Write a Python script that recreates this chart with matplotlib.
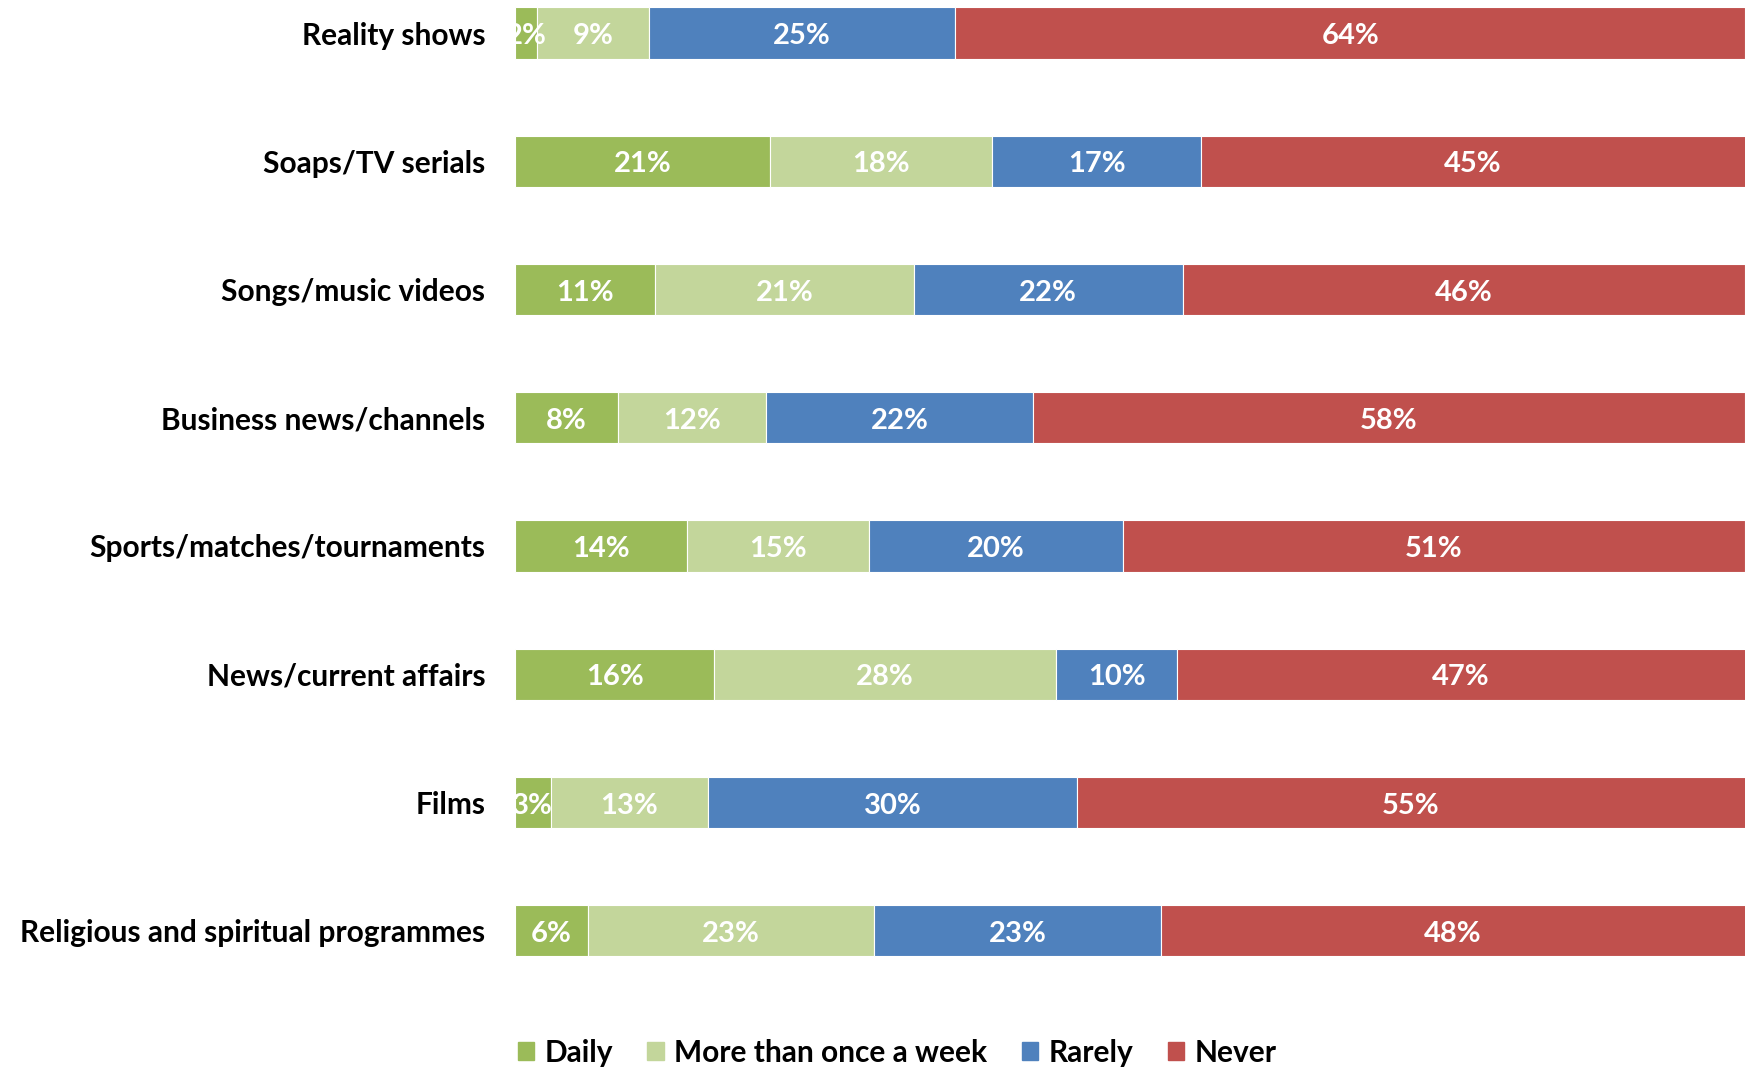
import numpy as np
import matplotlib.pyplot as plt
from matplotlib.patches import Patch

plt.rcParams['font.family'] = ['Lato', 'DejaVu Sans']

categories = ['Reality shows', 'Soaps/TV serials', 'Songs/music videos',
              'Business news/channels', 'Sports/matches/tournaments',
              'News/current affairs', 'Films', 'Religious and spiritual programmes']
series = ['Daily', 'More than once a week', 'Rarely', 'Never']
colors = ['#9BBB59', '#C3D69B', '#4F81BD', '#C0504D']

# segment widths (percent)
daily = [1.8, 20.7, 11.4, 8.4, 14.0, 16.2, 2.9, 5.9]
weekly = [9.1, 18.1, 21.0, 12.0, 14.8, 27.8, 12.8, 23.3]
rarely = [24.9, 17.0, 21.9, 21.7, 20.6, 9.8, 30.0, 23.3]
never = [64.2, 45.0, 45.7, 57.9, 50.6, 47.0, 55.0, 47.6]

# labels printed on the bars
daily_lbl = [2, 21, 11, 8, 14, 16, 3, 6]
weekly_lbl = [9, 18, 21, 12, 15, 28, 13, 23]
rarely_lbl = [25, 17, 22, 22, 20, 10, 30, 23]
never_lbl = [64, 45, 46, 58, 51, 47, 55, 48]

W, H = 1745, 1069
fig = plt.figure(figsize=(W / 100, H / 100), dpi=100)
ax = fig.add_axes([515 / W, 1 - 982 / H, 1 - 515 / W, 981 / H])

y = np.arange(len(categories))
left = np.zeros(len(categories))
vals = [daily, weekly, rarely, never]
lbls = [daily_lbl, weekly_lbl, rarely_lbl, never_lbl]
for v, l, c in zip(vals, lbls, colors):
    v = np.array(v)
    ax.barh(y, v, left=left, height=0.4, color=c, edgecolor='white', linewidth=0.8)
    for i in range(len(y)):
        right = min(left[i] + v[i], 100)
        xc = (left[i] + right) / 2
        ax.text(xc, y[i] + 0.025, str(l[i]) + '%', ha='center', va='center', color='white',
                fontsize=21, fontweight='bold')
    left = left + v

ax.set_xlim(0, 100)
ax.set_ylim(7.4, -0.25)
ax.set_yticks(y)
ax.set_yticklabels(categories, fontsize=21.5, fontweight='bold')
ax.tick_params(axis='y', length=0, pad=21.5)
ax.set_xticks([])
for s in ax.spines.values():
    s.set_visible(False)

handles = [Patch(color=c) for c in colors]
leg = fig.legend(handles, series, loc='center', bbox_to_anchor=(897 / W, 1 - 1053 / H),
                 ncol=4, frameon=False, handlelength=0.55, handleheight=0.55,
                 handletextpad=0.35, columnspacing=1.15, prop={'size': 21.5, 'weight': 'bold'})

fig.savefig('out.png', dpi=100)
